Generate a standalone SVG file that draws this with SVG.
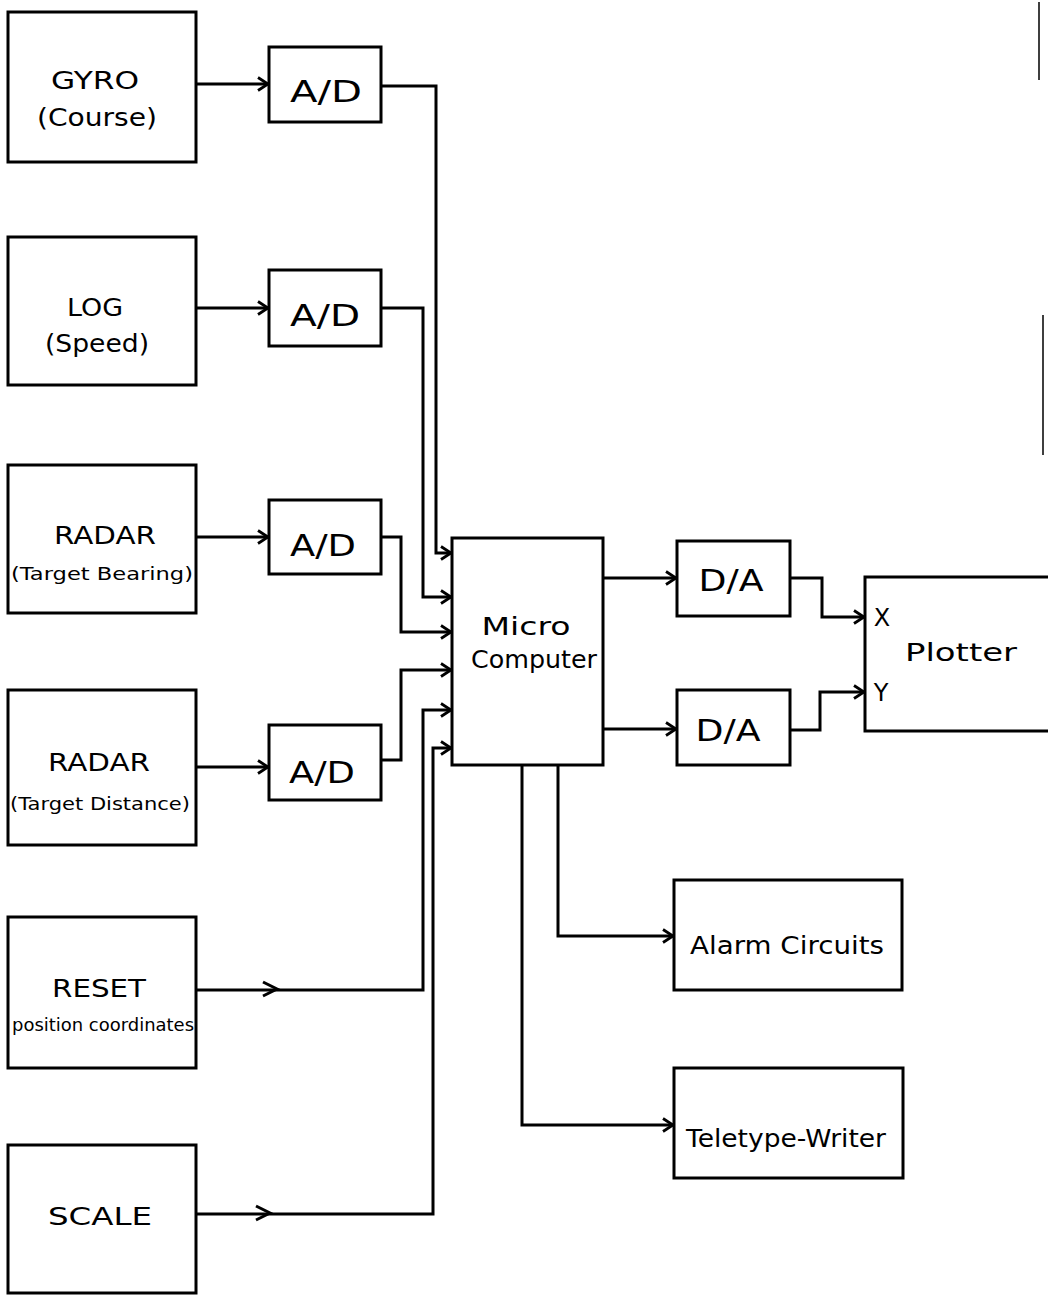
<svg xmlns="http://www.w3.org/2000/svg" width="1048" height="1295" viewBox="0 0 1048 1295">
<style>
.box{fill:none;stroke:#000;stroke-width:3;stroke-linejoin:miter}
.ln{fill:none;stroke:#000;stroke-width:3}
.t{font-family:"DejaVu Sans","Liberation Sans",sans-serif;fill:#000;text-anchor:middle;font-size:24px}
.ad{font-size:31px}
.sm{font-size:18px}
.art{fill:none;stroke:#000;stroke-width:1.5}
</style>
<defs>
<marker id="arr" viewBox="0 0 14 16" refX="13" refY="8" markerWidth="14" markerHeight="16" markerUnits="userSpaceOnUse" orient="auto">
<path d="M3,1.5 L13,8 L3,14.5" fill="none" stroke="#000" stroke-width="2.8"/>
</marker>
</defs>
<rect width="1048" height="1295" fill="#fff"/>

<g id="gyro"><rect class="box" x="8" y="12" width="188" height="150"/>
<text class="t" x="95" y="89" textLength="88" lengthAdjust="spacingAndGlyphs">GYRO</text>
<text class="t" x="97" y="126" textLength="120" lengthAdjust="spacingAndGlyphs">(Course)</text></g>

<g id="log"><rect class="box" x="8" y="237" width="188" height="148"/>
<text class="t" x="95" y="316" textLength="56" lengthAdjust="spacingAndGlyphs">LOG</text>
<text class="t" x="97" y="352" textLength="104" lengthAdjust="spacingAndGlyphs">(Speed)</text></g>

<g id="radar-bearing"><rect class="box" x="8" y="465" width="188" height="148"/>
<text class="t" x="105" y="544" textLength="102" lengthAdjust="spacingAndGlyphs">RADAR</text>
<text class="t sm" x="102" y="580" textLength="182" lengthAdjust="spacingAndGlyphs">(Target Bearing)</text></g>

<g id="radar-distance"><rect class="box" x="8" y="690" width="188" height="155"/>
<text class="t" x="99" y="771" textLength="102" lengthAdjust="spacingAndGlyphs">RADAR</text>
<text class="t sm" x="100" y="810" textLength="180" lengthAdjust="spacingAndGlyphs">(Target Distance)</text></g>

<g id="reset"><rect class="box" x="8" y="917" width="188" height="151"/>
<text class="t" x="99" y="997" textLength="94" lengthAdjust="spacingAndGlyphs">RESET</text>
<text class="t sm" x="103" y="1031" textLength="182" lengthAdjust="spacingAndGlyphs">position coordinates</text></g>

<g id="scale"><rect class="box" x="8" y="1145" width="188" height="148"/>
<text class="t" x="100" y="1225" textLength="104" lengthAdjust="spacingAndGlyphs">SCALE</text></g>

<g id="ad1"><rect class="box" x="269" y="47" width="112" height="75"/>
<text class="t ad" x="326" y="102" textLength="72" lengthAdjust="spacingAndGlyphs">A/D</text></g>
<g id="ad2"><rect class="box" x="269" y="270" width="112" height="76"/>
<text class="t ad" x="325" y="326" textLength="70" lengthAdjust="spacingAndGlyphs">A/D</text></g>
<g id="ad3"><rect class="box" x="269" y="500" width="112" height="74"/>
<text class="t ad" x="323" y="556" textLength="66" lengthAdjust="spacingAndGlyphs">A/D</text></g>
<g id="ad4"><rect class="box" x="269" y="725" width="112" height="75"/>
<text class="t ad" x="322" y="783" textLength="66" lengthAdjust="spacingAndGlyphs">A/D</text></g>

<g id="microcomputer"><rect class="box" x="452" y="538" width="151" height="227"/>
<text class="t" x="526" y="635" textLength="89" lengthAdjust="spacingAndGlyphs">Micro</text>
<text class="t" x="534" y="668" textLength="126" lengthAdjust="spacingAndGlyphs">Computer</text></g>

<g id="da1"><rect class="box" x="677" y="541" width="113" height="75"/>
<text class="t ad" x="731" y="591" textLength="65" lengthAdjust="spacingAndGlyphs">D/A</text></g>
<g id="da2"><rect class="box" x="677" y="690" width="113" height="75"/>
<text class="t ad" x="728" y="741" textLength="65" lengthAdjust="spacingAndGlyphs">D/A</text></g>

<g id="plotter"><path class="box" d="M1050,577 H865 V731 H1050"/>
<text class="t" x="882" y="626">X</text>
<text class="t" x="881" y="701">Y</text>
<text class="t" x="961" y="661" textLength="112" lengthAdjust="spacingAndGlyphs">Plotter</text></g>

<g id="alarm"><rect class="box" x="674" y="880" width="228" height="110"/>
<text class="t" x="787" y="954" textLength="194" lengthAdjust="spacingAndGlyphs">Alarm Circuits</text></g>

<g id="teletype"><rect class="box" x="674" y="1068" width="229" height="110"/>
<text class="t" x="786" y="1147" textLength="200" lengthAdjust="spacingAndGlyphs">Teletype-Writer</text></g>

<g id="connectors">
<path class="ln" d="M196,84 H268" marker-end="url(#arr)"/>
<path class="ln" d="M196,308 H268" marker-end="url(#arr)"/>
<path class="ln" d="M196,537 H268" marker-end="url(#arr)"/>
<path class="ln" d="M196,767 H268" marker-end="url(#arr)"/>
<path class="ln" d="M381,86 H436 V553 H451" marker-end="url(#arr)"/>
<path class="ln" d="M381,308 H423 V597 H451" marker-end="url(#arr)"/>
<path class="ln" d="M381,537 H401 V632 H451" marker-end="url(#arr)"/>
<path class="ln" d="M381,760 H401 V670 H451" marker-end="url(#arr)"/>
<path class="ln" d="M196,990 H423 V710 H451" marker-end="url(#arr)"/>
<path class="ln" d="M263,982 L277,989 L263,996"/>
<path class="ln" d="M196,1214 H433 V748 H451" marker-end="url(#arr)"/>
<path class="ln" d="M256,1206 L270,1213 L256,1220"/>
<path class="ln" d="M603,578 H676" marker-end="url(#arr)"/>
<path class="ln" d="M603,729 H676" marker-end="url(#arr)"/>
<path class="ln" d="M790,578 H822 V617 H864" marker-end="url(#arr)"/>
<path class="ln" d="M790,730 H820 V692 H864" marker-end="url(#arr)"/>
<path class="ln" d="M558,765 V936 H673" marker-end="url(#arr)"/>
<path class="ln" d="M522,765 V1125 H673" marker-end="url(#arr)"/>
</g>
<path class="art" d="M1039,2 V80 M1043,315 V455"/>
</svg>
